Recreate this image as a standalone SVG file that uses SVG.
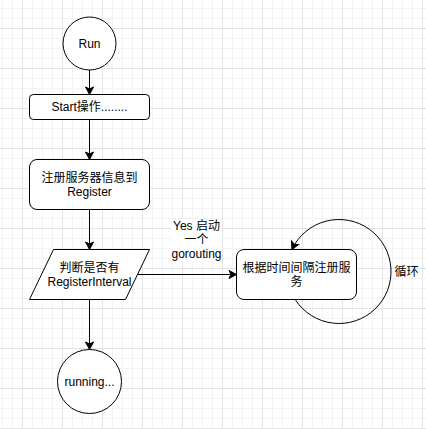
<svg xmlns="http://www.w3.org/2000/svg" width="426" height="429" viewBox="0 0 426 429">
  <defs>
    <pattern id="grid" patternUnits="userSpaceOnUse" x="22" y="28" width="40" height="40">
      <path d="M10.5 0V40M20.5 0V40M30.5 0V40M0 10.5H40M0 20.5H40M0 30.5H40" stroke="#f3f3f3" stroke-width="1" fill="none"/>
      <path d="M0.5 0V40M0 0.5H40" stroke="#e4e4e4" stroke-width="1" fill="none"/>
    </pattern>
    <marker id="arrow" markerUnits="userSpaceOnUse" markerWidth="12" markerHeight="12" viewBox="-9 -6 12 12" refX="0" refY="0" orient="auto">
      <path d="M-7.5,-4 L0,0 L-7.5,4 L-5.6,0 Z" fill="#000" stroke="#000" stroke-width="1" stroke-linejoin="miter"/>
    </marker>
    <style>
      .shape { fill: #ffffff; stroke: #000000; stroke-width: 1; }
      .edge { fill: none; stroke: #000000; stroke-width: 1; marker-end: url(#arrow); }
      .line { fill: none; stroke: #000000; stroke-width: 1; }
      text { font-family: "Liberation Sans", "Noto Sans CJK SC", Arial, sans-serif; font-size: 12px; fill: #000000; text-anchor: middle; dominant-baseline: central; }
    </style>
  </defs>
  <rect x="0" y="0" width="426" height="429" fill="#ffffff"/>
  <rect x="0" y="0" width="426" height="429" fill="url(#grid)"/>

  <g id="connectors">
    <path class="edge" d="M89.5 70 V94.5"/>
    <path class="edge" d="M89.5 119.5 V159.5"/>
    <path class="edge" d="M89.5 209.5 V249.5"/>
    <path class="edge" d="M89.5 299.5 V349.5"/>
    <path class="edge" d="M137.5 274.5 H236.5"/>
    <path class="edge" d="M295.2 299.5 A52 52 0 1 0 291.9 249.5"/>
    <g id="label-yes">
      <rect x="171.5" y="219" width="50" height="42" fill="#ffffff"/>
      <text x="196.5" y="226">Yes 启动</text>
      <text x="196.5" y="240">一个</text>
      <text x="196.5" y="254">gorouting</text>
    </g>
    <text id="label-loop" x="406.5" y="271.5">循环</text>
  </g>

  <g id="node-run">
    <circle class="shape" cx="89.5" cy="43.5" r="26.5"/>
    <text x="89.5" y="43.5">Run</text>
  </g>
  <g id="node-start">
    <rect class="shape" x="29.5" y="94.5" width="120" height="25" rx="3.75"/>
    <text x="89.5" y="107">Start操作........</text>
  </g>
  <g id="node-register">
    <rect class="shape" x="29.5" y="159.5" width="120" height="50" rx="7.5"/>
    <text x="89.5" y="177.5">注册服务器信息到</text>
    <text x="89.5" y="191.5">Register</text>
  </g>
  <g id="node-decision">
    <polygon class="shape" points="53.5,249.5 149.5,249.5 125.5,299.5 29.5,299.5"/>
    <text x="89.5" y="267.5">判断是否有</text>
    <text x="89.5" y="281.5">RegisterInterval</text>
  </g>
  <g id="node-loop">
    <rect class="shape" x="236.5" y="249.5" width="120" height="50" rx="7.5"/>
    <text x="296.5" y="268">根据时间间隔注册服</text>
    <text x="296.5" y="282">务</text>
  </g>
  <g id="node-running">
    <circle class="shape" cx="89.5" cy="381.5" r="32"/>
    <text x="89.5" y="381.5">running...</text>
  </g>
</svg>
